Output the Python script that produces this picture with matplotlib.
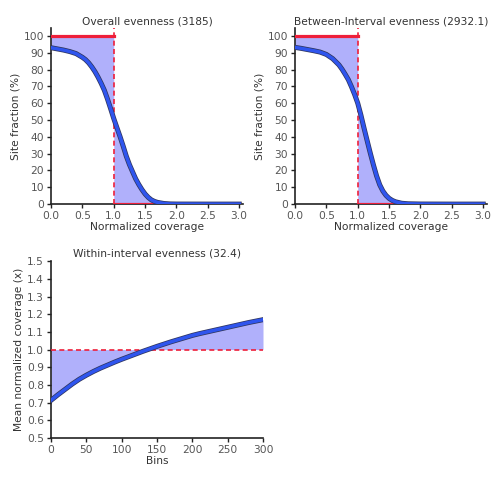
import numpy as np
import matplotlib
matplotlib.use("Agg")
from matplotlib import pyplot as plt
import matplotlib.patheffects as pe

# Overall evenness curve (normalized coverage vs site fraction %)
overall_x = [0.0, 0.1, 0.2, 0.3, 0.4, 0.5, 0.55, 0.6, 0.65, 0.7, 0.75, 0.8, 0.85, 0.9,
             0.95, 1.0, 1.05, 1.1, 1.15, 1.2, 1.25, 1.3, 1.35, 1.4, 1.45, 1.5, 1.55,
             1.6, 1.65, 1.7, 1.8, 1.9, 2.0, 2.5, 3.0]
overall_y = [93.0, 92.3, 91.6, 90.7, 89.5, 87.3, 85.9, 84.0, 81.6, 78.8, 75.5, 71.8,
             67.7, 62.5, 56.8, 50.9, 45.5, 40.2, 34.5, 28.5, 23.5, 19.2, 15.0, 11.6,
             8.6, 6.0, 4.0, 2.5, 1.6, 1.0, 0.35, 0.1, 0.03, 0.0, 0.0]

# Between-interval evenness curve
between_x = [0.0, 0.1, 0.2, 0.3, 0.4, 0.5, 0.6, 0.7, 0.75, 0.8, 0.85, 0.9, 0.95, 1.0,
             1.05, 1.1, 1.15, 1.2, 1.25, 1.3, 1.35, 1.4, 1.45, 1.5, 1.55, 1.6, 1.7,
             1.8, 2.0, 2.5, 3.0]
between_y = [93.2, 92.6, 91.9, 91.2, 90.4, 89.0, 86.5, 82.8, 80.2, 77.2, 74.0, 69.8,
             65.2, 60.0, 53.0, 45.2, 37.7, 30.3, 23.3, 16.8, 11.5, 7.8, 5.2, 3.4,
             2.2, 1.4, 0.5, 0.2, 0.05, 0.0, 0.0]

# Within-interval evenness curve (bins vs mean normalized coverage)
within_x = [0, 10, 20, 30, 40, 50, 60, 70, 80, 90, 100, 110, 120, 130, 140, 150,
            160, 170, 180, 190, 200, 210, 220, 230, 240, 250, 260, 270, 280, 290, 300]
within_y = [0.713, 0.745, 0.775, 0.805, 0.832, 0.855, 0.876, 0.895, 0.912, 0.929,
            0.945, 0.960, 0.975, 0.990, 1.004, 1.018, 1.031, 1.044, 1.056, 1.068,
            1.080, 1.090, 1.099, 1.108, 1.117, 1.126, 1.135, 1.144, 1.153, 1.161,
            1.169]

titles = ["Overall evenness (3185)", "Between-Interval evenness (2932.1)",
          "Within-interval evenness (32.4)"]

fill_col = "#b0b0fb"
line_col = "#2f55ee"
red = "#ee1f3a"
txt = "#333333"
fs = 7.7
outline = [pe.Stroke(linewidth=3.6, foreground="#30365e"), pe.Normal()]


def style(ax):
    for s in ["top", "right"]:
        ax.spines[s].set_visible(False)
    for s in ["left", "bottom"]:
        ax.spines[s].set_color("#222222")
        ax.spines[s].set_linewidth(1.2)
    ax.tick_params(colors="#222222", labelcolor="#555555", labelsize=fs,
                   length=3, width=1, pad=2)


def coverage_panel(ax, xs, ys, title):
    xs = np.array(xs)
    ys = np.array(ys)
    left = xs <= 1.0
    right = xs >= 1.0
    ax.fill_between(xs[left], ys[left], 100, color=fill_col, lw=0)
    ax.fill_between(xs[right], ys[right], 0, color=fill_col, lw=0)
    ax.plot([0, 1], [100, 100], color=red, lw=2.3, zorder=3)
    ax.plot([1, 3], [0, 0], color=red, lw=2.3, zorder=3)
    ax.plot([1, 1], [0, 105], color=red, lw=1.2, ls=(0, (3, 2)), zorder=3)
    ax.plot(xs, ys, color=line_col, lw=2.5, path_effects=outline, zorder=4)
    ax.set_xlim(0, 3.06)
    ax.set_ylim(0, 104.6)
    ax.set_xticks(np.arange(0, 3.01, 0.5))
    ax.set_yticks(np.arange(0, 101, 10))
    ax.set_xlabel("Normalized coverage", fontsize=fs, color=txt, labelpad=1)
    ax.set_ylabel("Site fraction (%)", fontsize=fs, color=txt, labelpad=2)
    ax.set_title(title, fontsize=fs, color=txt, pad=3)
    style(ax)


fig = plt.figure(figsize=(5.0, 4.78), dpi=100)
ax1 = fig.add_axes([0.102, 0.573, 0.384, 0.368])
ax2 = fig.add_axes([0.590, 0.573, 0.384, 0.368])
ax3 = fig.add_axes([0.102, 0.0837, 0.424, 0.370])

coverage_panel(ax1, overall_x, overall_y, titles[0])
coverage_panel(ax2, between_x, between_y, titles[1])

ax3.fill_between(within_x, within_y, 1.0, color=fill_col, lw=0)
ax3.plot([0, 300], [1, 1], color=red, lw=1.2, ls=(0, (3, 2)), zorder=3)
ax3.plot(within_x, within_y, color=line_col, lw=2.5, path_effects=outline, zorder=4)
ax3.set_xlim(0, 300)
ax3.set_ylim(0.5, 1.5)
ax3.set_xticks(np.arange(0, 301, 50))
ax3.set_yticks(np.round(np.arange(0.5, 1.51, 0.1), 1))
ax3.set_xlabel("Bins", fontsize=fs, color=txt, labelpad=1)
ax3.set_ylabel("Mean normalized coverage (x)", fontsize=fs, color=txt, labelpad=2)
ax3.set_title(titles[2], fontsize=fs, color=txt, pad=3)
style(ax3)

fig.savefig("out.png", dpi=100)
